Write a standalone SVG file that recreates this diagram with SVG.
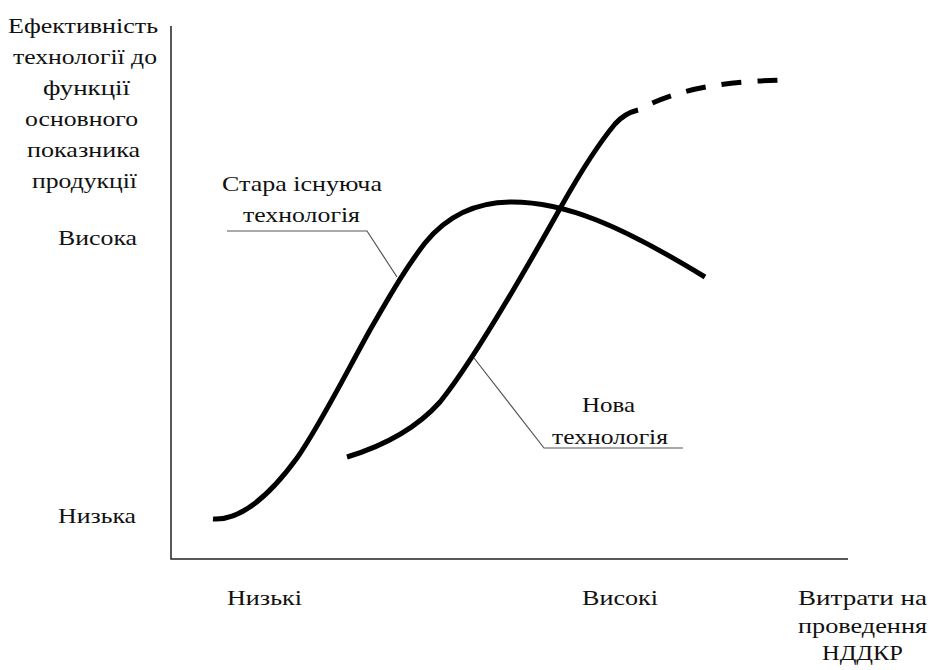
<svg xmlns="http://www.w3.org/2000/svg" width="929" height="670" viewBox="0 0 929 670">
<style>
text{font-family:'Liberation Serif','DejaVu Serif',serif;font-size:21px;fill:#111;text-anchor:middle}
.curve{fill:none;stroke:#000;stroke-width:5;stroke-linecap:butt}
.axis{fill:none;stroke:#222;stroke-width:1.5}
.leader{fill:none;stroke:#555;stroke-width:1.2}
</style>
<rect width="929" height="670" fill="#fff"/>
<g id="axes">
<path class="axis" d="M171,26 V559 H848"/>
</g>
<g id="y-label">
<text x="83" y="33" textLength="150" lengthAdjust="spacingAndGlyphs">Ефективність</text>
<text x="85" y="64" textLength="144" lengthAdjust="spacingAndGlyphs">технології до</text>
<text x="86.5" y="95" textLength="87" lengthAdjust="spacingAndGlyphs">функції</text>
<text x="81.5" y="126" textLength="113" lengthAdjust="spacingAndGlyphs">основного</text>
<text x="83.5" y="157" textLength="113" lengthAdjust="spacingAndGlyphs">показника</text>
<text x="84.5" y="188" textLength="105" lengthAdjust="spacingAndGlyphs">продукції</text>
</g>
<g id="y-high"><text x="97.5" y="245" textLength="79" lengthAdjust="spacingAndGlyphs">Висока</text></g>
<g id="y-low"><text x="97" y="523" textLength="78" lengthAdjust="spacingAndGlyphs">Низька</text></g>
<g id="x-low"><text x="264.5" y="605" textLength="75" lengthAdjust="spacingAndGlyphs">Низькі</text></g>
<g id="x-high"><text x="620" y="605" textLength="76" lengthAdjust="spacingAndGlyphs">Високі</text></g>
<g id="x-label">
<text x="862.5" y="605" textLength="129" lengthAdjust="spacingAndGlyphs">Витрати на</text>
<text x="862.5" y="633" textLength="129" lengthAdjust="spacingAndGlyphs">проведення</text>
<text x="862.5" y="660" textLength="81" lengthAdjust="spacingAndGlyphs">НДДКР</text>
</g>
<g id="old-tech">
<path class="curve" d="M213,519 C240,521 270,495 297,458 C320,425 345,375 370,330 C385,305 400,275 425,243 C450,212 480,202 512,202 C565,202 620,225 705,277"/>
<text x="302" y="191" textLength="160" lengthAdjust="spacingAndGlyphs">Стара існуюча</text>
<text x="301.5" y="222" textLength="117" lengthAdjust="spacingAndGlyphs">технологія</text>
</g>
<g id="new-tech">
<path class="curve" d="M347,457 C380,447 415,430 440,402 C470,365 520,280 562,205 C575,182 595,148 615,124 C622,116 630,112 638,110"/>
<path class="curve" stroke-dasharray="20 16" stroke-dashoffset="20" d="M638,110 C672,92 710,82 783,80"/>
<text x="608.5" y="412" textLength="53" lengthAdjust="spacingAndGlyphs">Нова</text>
<text x="610" y="444" textLength="116" lengthAdjust="spacingAndGlyphs">технологія</text>
</g>
<g id="connectors">
<path class="leader" d="M227,231 H367 L397,277"/>
<path class="leader" d="M474,358 L544,448 H683"/>
</g>
</svg>
